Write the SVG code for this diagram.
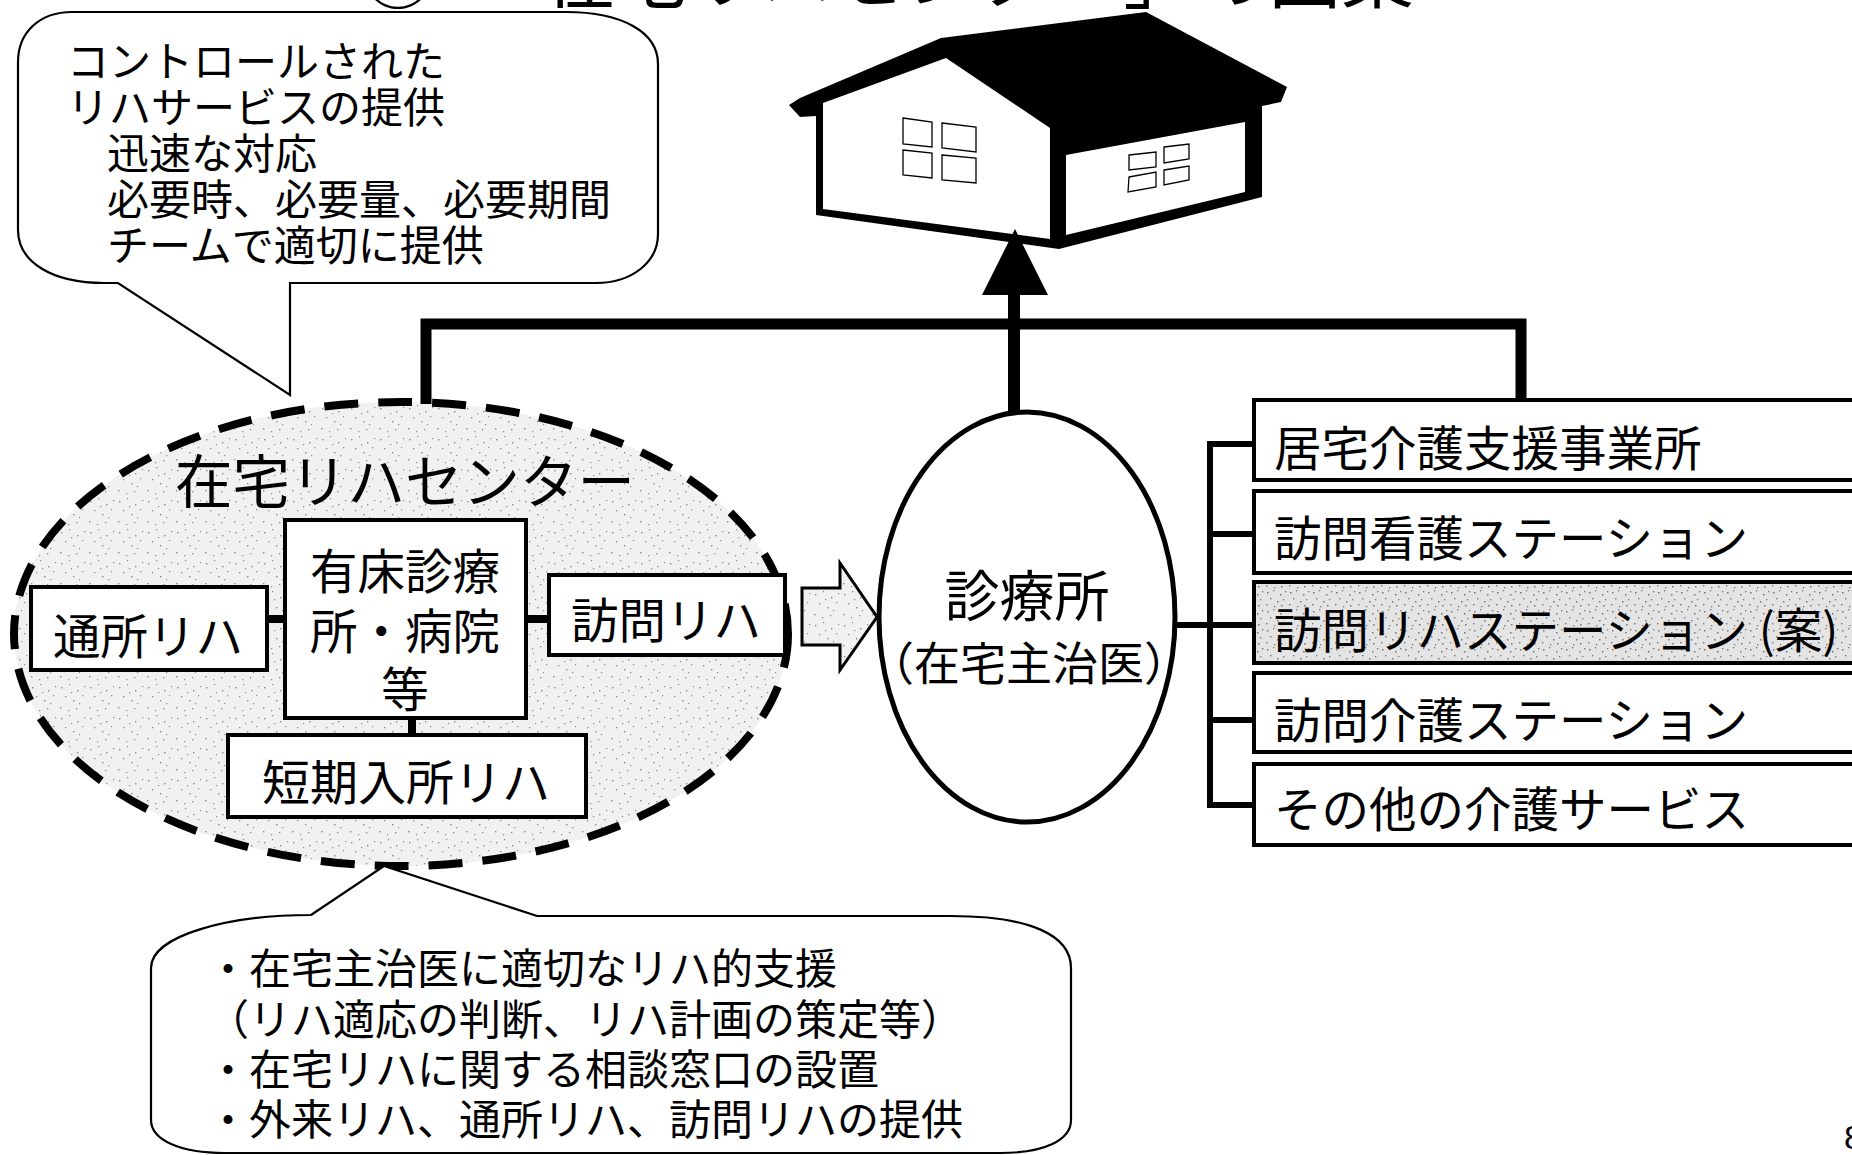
<svg xmlns="http://www.w3.org/2000/svg" width="1852" height="1155" viewBox="0 0 1852 1155">
  <style>
    text { font-family: "Noto Sans CJK JP", "Noto Sans", sans-serif; fill: #000; dominant-baseline: central; }
    .box { fill: #fff; stroke: #000; stroke-width: 4; }
    .bubble { fill: #fff; stroke: #000; stroke-width: 2.2; stroke-linejoin: miter; }
    .thick { fill: none; stroke: #000; stroke-width: 11; stroke-linejoin: miter; }
    .link { fill: none; stroke: #000; stroke-width: 6; }
    .inner { fill: none; stroke: #000; stroke-width: 8; }
    .win { fill: #fff; stroke: #000; stroke-width: 1.3; }
    .f42 { font-size: 42px; }
    .f47 { font-size: 47.5px; }
  </style>
  <defs>
    <!-- light stipple used for the grey areas -->
    <pattern id="speck" width="29" height="31" patternUnits="userSpaceOnUse">
      <rect width="29" height="31" fill="#f1f1f1"/>
      <g fill="#8c8c8c">
        <rect x="3" y="5" width="1.4" height="1.4"/>
        <rect x="11" y="2" width="1.2" height="1.2"/>
        <rect x="19" y="8" width="1.4" height="1.4"/>
        <rect x="26" y="4" width="1.2" height="1.2"/>
        <rect x="7" y="14" width="1.3" height="1.3"/>
        <rect x="15" y="18" width="1.4" height="1.4"/>
        <rect x="24" y="13" width="1.2" height="1.2"/>
        <rect x="2" y="25" width="1.4" height="1.4"/>
        <rect x="10" y="28" width="1.2" height="1.2"/>
        <rect x="18" y="26" width="1.3" height="1.3"/>
        <rect x="21" y="21" width="1.2" height="1.2"/>
        <rect x="13" y="10" width="1.2" height="1.2"/>
      </g>
    </pattern>
    <pattern id="speckDark" width="23" height="19" patternUnits="userSpaceOnUse">
      <rect width="23" height="19" fill="#e4e4e4"/>
      <g fill="#777">
        <rect x="2" y="3" width="1.5" height="1.5"/>
        <rect x="8" y="1" width="1.3" height="1.3"/>
        <rect x="15" y="5" width="1.5" height="1.5"/>
        <rect x="20" y="2" width="1.3" height="1.3"/>
        <rect x="5" y="9" width="1.4" height="1.4"/>
        <rect x="12" y="12" width="1.5" height="1.5"/>
        <rect x="18" y="10" width="1.3" height="1.3"/>
        <rect x="1" y="15" width="1.4" height="1.4"/>
        <rect x="9" y="17" width="1.3" height="1.3"/>
        <rect x="16" y="16" width="1.5" height="1.5"/>
      </g>
    </pattern>
  </defs>

  <rect width="1852" height="1155" fill="#fff"/>

  <!-- page title, running off the top edge -->
  <g id="title">
    <text x="398" y="-30" style="font-size:72px" text-anchor="middle">①</text>
    <text x="471" y="-30" style="font-size:72.5px">「在宅リハセンター」の図案</text>
  </g>

  <!-- callout: controlled rehab services -->
  <g id="callout-top">
    <path class="bubble" d="M72,12 H566 C622,12 658,32 658,64 V234 C658,262 632,283 596,283 H290 V395 L118,283 H104 C52,283 18,262 18,230 V62 C18,32 40,12 72,12 Z"/>
    <text class="f42" x="67" y="58">コントロールされた</text>
    <text class="f42" x="67" y="104">リハサービスの提供</text>
    <text class="f42" x="107" y="150">迅速な対応</text>
    <text class="f42" x="107" y="196">必要時、必要量、必要期間</text>
    <text class="f42" x="107" y="242">チームで適切に提供</text>
  </g>

  <!-- home -->
  <g id="house">
    <path fill="#000" d="M789,105 L800,98 L941,38 L1146,12 L1287,87 L1281,102 L1262,106 L1262,197 L1059,249 L816,215 L816,116 L800,117 Z"/>
    <path fill="#fff" d="M823,103 L946,58 L1050,128 L1050,239 L823,209 Z"/>
    <path fill="#fff" d="M1066,155 L1245,122 L1245,192 L1066,235 Z"/>
    <path class="win" d="M903,118 L932,122 L932,147 L903,144 Z"/>
    <path class="win" d="M942,123 L976,127 L976,152 L942,148 Z"/>
    <path class="win" d="M903,150 L932,153 L932,178 L903,175 Z"/>
    <path class="win" d="M942,155 L976,158 L976,183 L942,180 Z"/>
    <path class="win" d="M1129,155 L1156,152 L1156,167 L1129,170 Z"/>
    <path class="win" d="M1164,147 L1189,144 L1189,159 L1164,163 Z"/>
    <path class="win" d="M1129,177 L1156,172 L1156,187 L1128,192 Z"/>
    <path class="win" d="M1164,170 L1189,166 L1189,180 L1164,185 Z"/>
  </g>

  <!-- home rehab centre -->
  <g id="rehab-center">
    <ellipse cx="401" cy="634" rx="387" ry="232" fill="url(#speck)" stroke="#000" stroke-width="8" stroke-dasharray="34 20"/>
    <text x="175" y="478" style="font-size:57.5px">在宅リハセンター</text>
  </g>
  <g id="day-rehab">
    <rect class="box" x="31" y="587" width="236" height="83"/>
    <text class="f47" x="148" y="633" text-anchor="middle">通所リハ</text>
  </g>
  <g id="clinic-hospital">
    <rect class="box" x="285" y="520" width="241" height="198"/>
    <text class="f47" x="405" y="568" text-anchor="middle">有床診療</text>
    <text class="f47" x="405" y="628" text-anchor="middle">所・病院</text>
    <text class="f47" x="405" y="686" text-anchor="middle">等</text>
  </g>
  <g id="visit-rehab">
    <rect class="box" x="549" y="575" width="236" height="80"/>
    <text class="f47" x="666" y="617" text-anchor="middle">訪問リハ</text>
  </g>
  <g id="short-stay">
    <rect class="box" x="228" y="735" width="358" height="82"/>
    <text x="406" y="779" style="font-size:48px" text-anchor="middle">短期入所リハ</text>
  </g>

  <!-- clinic (home doctor) -->
  <g id="clinic">
    <ellipse cx="1027" cy="617" rx="148" ry="205" fill="#fff" stroke="#000" stroke-width="5"/>
    <text x="1027" y="592" style="font-size:55px" text-anchor="middle">診療所</text>
    <text x="1029" y="660" style="font-size:46px" text-anchor="middle">（在宅主治医）</text>
  </g>

  <!-- care service providers -->
  <g id="svc-care-plan">
    <rect class="box" x="1254" y="400" width="700" height="80"/>
    <text class="f47" x="1274" y="445">居宅介護支援事業所</text>
  </g>
  <g id="svc-nursing">
    <rect class="box" x="1254" y="491" width="700" height="82"/>
    <text class="f47" x="1274" y="535">訪問看護ステーション</text>
  </g>
  <g id="svc-rehab-station">
    <rect x="1254" y="582" width="700" height="81" fill="url(#speckDark)" stroke="#000" stroke-width="4"/>
    <text class="f47" x="1274" y="627">訪問リハステーション (案)</text>
  </g>
  <g id="svc-home-care">
    <rect class="box" x="1254" y="673" width="700" height="79"/>
    <text class="f47" x="1274" y="717">訪問介護ステーション</text>
  </g>
  <g id="svc-other">
    <rect class="box" x="1254" y="764" width="700" height="81"/>
    <text class="f47" x="1274" y="806">その他の介護サービス</text>
  </g>

  <!-- callout: roles of the centre -->
  <g id="callout-bottom">
    <path class="bubble" d="M311,915 L384,866 L537,916 H950 C1030,916 1071,935 1071,968 V1120 C1071,1140 1045,1153 1000,1153 H225 C180,1153 151,1140 151,1120 V968 C151,935 230,915 311,915 Z"/>
    <text class="f42" x="207" y="965">・在宅主治医に適切なリハ的支援</text>
    <text class="f42" x="207" y="1016">（リハ適応の判断、リハ計画の策定等）</text>
    <text class="f42" x="207" y="1066">・在宅リハに関する相談窓口の設置</text>
    <text class="f42" x="207" y="1116">・外来リハ、通所リハ、訪問リハの提供</text>
  </g>

  <g id="page-number">
    <text x="1844" y="1137" style="font-family:'Liberation Sans', sans-serif; font-size:34px">8</text>
  </g>

  <!-- connectors -->
  <g id="connectors">
    <path class="thick" d="M426,404 V324 H1521 V400"/>
    <path d="M1014,414 V290" stroke="#000" stroke-width="12" fill="none"/>
    <path d="M1015,229 L982,295 L1048,295 Z" fill="#000"/>
    <path class="inner" d="M267,619 H285 M526,619 H549 M412,718 V735"/>
    <path d="M802,588 H840 V563 L877,617 L840,670 V645 H802 Z" fill="url(#speck)" stroke="#000" stroke-width="3" stroke-linejoin="miter"/>
    <path class="link" d="M1210,441 V808"/>
    <path class="link" d="M1207,444 H1256 M1207,534 H1256 M1174,625 H1256 M1207,720 H1256 M1207,805 H1256"/>
  </g>
</svg>
